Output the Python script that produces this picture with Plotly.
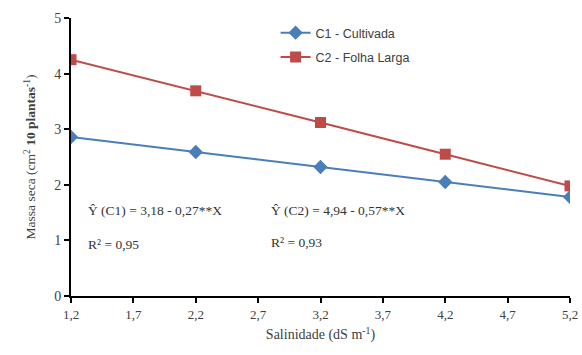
import plotly.graph_objects as go

salinidade = [1.2, 2.2, 3.2, 4.2, 5.2]
c1_cultivada = [2.86, 2.59, 2.32, 2.05, 1.78]
c2_folha_larga = [4.25, 3.69, 3.12, 2.55, 1.98]
x_ticks = [1.2, 1.7, 2.2, 2.7, 3.2, 3.7, 4.2, 4.7, 5.2]
x_tick_labels = ["1,2", "1,7", "2,2", "2,7", "3,2", "3,7", "4,2", "4,7", "5,2"]
y_ticks = [0, 1, 2, 3, 4, 5]

serif = "Liberation Serif"
fig = go.Figure()
fig.add_trace(go.Scatter(x=salinidade, y=c1_cultivada, mode="lines+markers",
                         name="C1 - Cultivada", legendgroup="c1",
                         line=dict(color="#4a7ebb", width=2),
                         marker=dict(symbol="diamond", size=11, color="#4a7ebb")))
fig.add_trace(go.Scatter(x=salinidade, y=c2_folha_larga, mode="lines+markers",
                         name="C2 - Folha Larga", legendgroup="c2",
                         line=dict(color="#be4b48", width=2),
                         marker=dict(symbol="square", size=11, color="#be4b48")))

fig.update_layout(
    width=582, height=355,
    margin=dict(l=71, r=12, t=18, b=59),
    paper_bgcolor="white", plot_bgcolor="white",
    font=dict(family=serif, color="#404040", size=12),
    legend=dict(x=0.41, y=1.0, xanchor="left", yanchor="top",
                font=dict(family="Liberation Sans", size=12.5, color="#404040"),
                bgcolor="rgba(0,0,0,0)", tracegroupgap=5, itemwidth=30),
    xaxis=dict(range=[1.2, 5.2], tickvals=x_ticks, ticktext=x_tick_labels,
               automargin=False,
               showline=True, linecolor="black", linewidth=2,
               ticks="outside", ticklen=5, tickcolor="black", tickwidth=2,
               showgrid=False, zeroline=False,
               tickfont=dict(family=serif, size=13, color="#404040"),
               title=dict(text="Salinidade (dS m<sup>-1</sup>)", font=dict(family=serif, size=14, color="#404040"), standoff=9)),
    yaxis=dict(range=[0, 5], tickvals=y_ticks, automargin=False,
               showline=True, linecolor="black", linewidth=2,
               ticks="outside", ticklen=5, tickcolor="black", tickwidth=2,
               showgrid=False, zeroline=False,
               tickfont=dict(family=serif, size=14, color="#404040"),
               title=dict(text="Massa seca (cm<sup>2</sup> <b>10 plantas</b><sup>-1</sup>)", font=dict(family=serif, size=13.5, color="#404040"), standoff=15)),
)

ann_font = dict(family=serif, size=13.5, color="#333333")
fig.add_annotation(x=1.32, y=1.53, xref="x", yref="y", xanchor="left", showarrow=False,
                   text="Ŷ (C1) = 3,18 - 0,27**X", font=ann_font)
fig.add_annotation(x=1.32, y=0.92, xref="x", yref="y", xanchor="left", showarrow=False,
                   text="R² = 0,95", font=ann_font)
fig.add_annotation(x=2.79, y=1.53, xref="x", yref="y", xanchor="left", showarrow=False,
                   text="Ŷ (C2) = 4,94 - 0,57**X", font=ann_font)
fig.add_annotation(x=2.79, y=0.96, xref="x", yref="y", xanchor="left", showarrow=False,
                   text="R² = 0,93", font=ann_font)

fig.write_html("out.html")
